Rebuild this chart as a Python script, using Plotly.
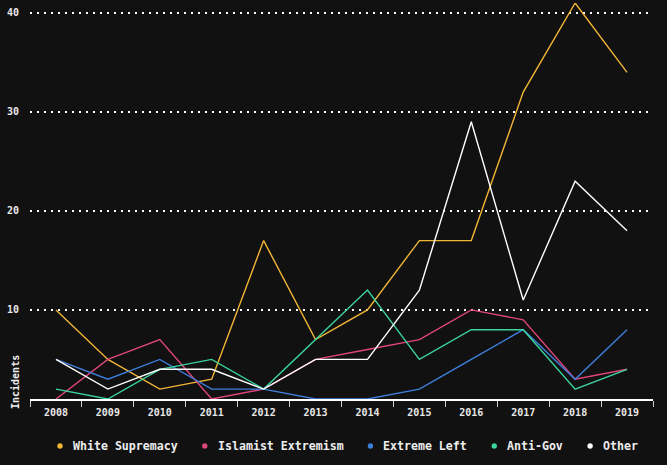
import plotly.graph_objects as go

years = [2008, 2009, 2010, 2011, 2012, 2013, 2014, 2015, 2016, 2017, 2018, 2019]
white_supremacy = [10, 5, 2, 3, 17, 7, 10, 17, 17, 32, 41, 34]
islamist_extremism = [1, 5, 7, 1, 2, 5, 6, 7, 10, 9, 3, 4]
extreme_left = [5, 3, 5, 2, 2, 1, 1, 2, 5, 8, 3, 8]
anti_gov = [2, 1, 4, 5, 2, 7, 12, 5, 8, 8, 2, 4]
other = [5, 2, 4, 4, 2, 5, 5, 12, 29, 11, 23, 18]

series_names = ["White Supremacy", "Islamist Extremism", "Extreme Left", "Anti-Gov", "Other"]
series_values = [white_supremacy, islamist_extremism, extreme_left, anti_gov, other]
series_colors = ["#f2b636", "#e0457b", "#3f7fdc", "#3bd49b", "#ffffff"]
y_ticks = [10, 20, 30, 40]

BG = "#111111"
FONT = "DejaVu Sans Mono"

W, H = 667, 465
ML, MR, MT, MB = 30, 14, 3, 66
PW, PH = W - ML - MR, H - MT - MB


def px_to_paper_x(px):
    return (px - ML) / PW


def px_to_paper_y(py):
    return (H - MB - py) / PH


fig = go.Figure()
for name, vals, col in zip(series_names, series_values, series_colors):
    fig.add_trace(go.Scatter(x=years, y=vals, mode="lines", name=name,
                             line=dict(color=col, width=1.4), showlegend=False))

# Legend row (dot + label), laid out like an HTML inline legend
LEG_FONT = 11.6
CHAR_W = 0.602 * LEG_FONT
legend_y = px_to_paper_y(446)
shapes = []
annotations = []
cur = 60
for name, col in zip(series_names, series_colors):
    shapes.append(dict(type="circle", xref="paper", yref="paper",
                       xsizemode="pixel", ysizemode="pixel",
                       xanchor=px_to_paper_x(cur), yanchor=legend_y,
                       x0=-2.7, x1=2.7, y0=-2.7, y1=2.7,
                       fillcolor=col, line=dict(width=0)))
    text_x = cur + 11
    annotations.append(dict(text=name, xref="paper", yref="paper",
                            x=px_to_paper_x(text_x), y=legend_y,
                            xanchor="left", yanchor="middle", showarrow=False,
                            font=dict(family=FONT, size=LEG_FONT, color="#eeeeee", weight="bold")))
    cur = text_x + len(name) * CHAR_W + 29

annotations.append(dict(text="Incidents", textangle=-90, xref="paper", yref="paper",
                        x=px_to_paper_x(15), y=px_to_paper_y(382),
                        xanchor="center", yanchor="middle", showarrow=False,
                        font=dict(family=FONT, size=10, color="#eeeeee", weight="bold")))

fig.update_layout(
    width=W, height=H,
    paper_bgcolor=BG, plot_bgcolor=BG,
    margin=dict(l=ML, r=MR, t=MT, b=MB, autoexpand=False),
    font=dict(family=FONT, color="#eeeeee", size=10),
    showlegend=False,
    xaxis=dict(range=[2007.5, 2019.5], tickvals=years, ticktext=[str(y) for y in years],
               automargin=False,
               showgrid=False, zeroline=False, showline=True, linecolor="#ffffff", linewidth=2,
               ticks="outside", ticklen=3, tickcolor=BG,
               tickfont=dict(family=FONT, size=10, color="#e8e8e8", weight="bold"),
               minor=dict(tickmode="linear", tick0=2007.5, dtick=1, ticks="outside",
                          ticklen=6, tickcolor="#cccccc", tickwidth=1, showgrid=False)),
    yaxis=dict(range=[1, 41], tickvals=y_ticks, ticktext=[str(v) for v in y_ticks],
               automargin=False,
               showgrid=True, gridcolor="#ffffff", gridwidth=2, griddash="2px,5px",
               zeroline=False, showline=False, ticks="",
               ticklabelstandoff=10,
               tickfont=dict(family=FONT, size=10, color="#e8e8e8", weight="bold")),
    shapes=shapes,
    annotations=annotations,
)

fig.write_html("out.html",
               config={"displayModeBar": False},
               post_script="document.body.style.margin='0';"
                           "document.body.style.background='#111111';")
